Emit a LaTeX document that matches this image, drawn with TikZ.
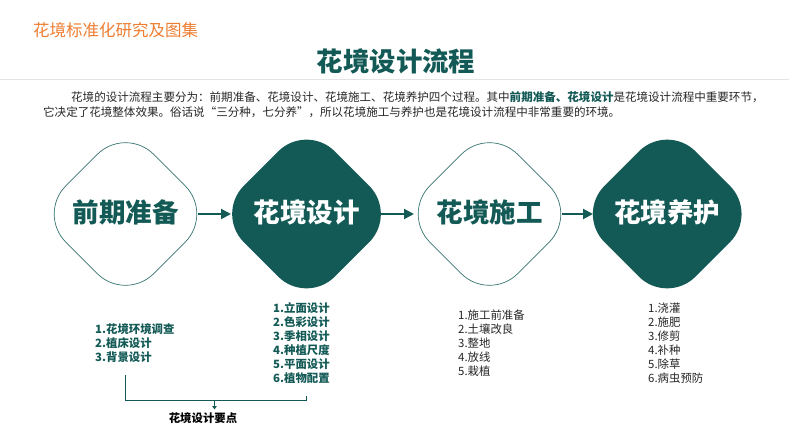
\documentclass[tikz,border=0pt]{standalone}
\usepackage{fontspec}
\setmainfont{Noto Sans CJK SC}
\usepackage{xcolor}
\usetikzlibrary{shapes.geometric, positioning, arrows.meta}
\definecolor{darkgreen}{HTML}{135A56}
\definecolor{headorange}{HTML}{ED7D31}
\definecolor{rulegray}{HTML}{E3E3E3}
\definecolor{bodygray}{HTML}{262626}
\tikzset{
    stage/.style={diamond, rounded corners=40pt, inner sep=0pt, minimum width=#1, minimum height=#1, text height=20pt, text depth=4pt, font=\bfseries\fontsize{26.5}{30}\selectfont},
    stageopen/.style={stage=176pt, draw=darkgreen!85, line width=0.7pt, text=darkgreen},
    stagefull/.style={stage=182pt, fill=darkgreen, text=white},
    flow/.style={-{Triangle[length=10pt,width=10pt]}, draw=darkgreen, line width=2pt, yshift=2pt},
    items/.style={anchor=west, align=left, inner sep=0pt, font=\fontsize{11.4}{14}\selectfont},
    itemsbold/.style={items, text=darkgreen, font=\bfseries\fontsize{11.4}{14}\selectfont},
    introline/.style={anchor=west, inner sep=0pt, text=bodygray, font=\fontsize{11.54}{14}\selectfont}
}

\begin{document}
\begin{tikzpicture}[x=1pt,y=-1pt]
    \useasboundingbox (0,0) rectangle (789,441);

    \node[anchor=west, inner sep=0pt, text=headorange, font=\fontsize{16.5}{18}\selectfont] (header) at (33,30) {花境标准化研究及图集};
    \node[inner sep=0pt, text=darkgreen, font=\bfseries\fontsize{26.4}{30}\selectfont] (title) at (396,61) {花境设计流程};
    \draw[rulegray] (0,79.5) coordinate (ruleleft) -- (789,79.5) coordinate (ruleright);

    \node[introline] (introa) at (71,97) {花境的设计流程主要分为：前期准备、花境设计、花境施工、花境养护四个过程。其中\textcolor{darkgreen}{\textbf{前期准备、花境设计}}是花境设计流程中重要环节，};
    \node[introline] (introb) at (43,112) {它决定了花境整体效果。俗话说“三分种，七分养”，所以花境施工与养护也是花境设计流程中非常重要的环境。};

    \node[stageopen] (prep) at (125.5,214) {前期准备};
    \node[stagefull] (design) at (306.5,214) {花境设计};
    \node[stageopen] (build) at (489.5,214) {花境施工};
    \node[stagefull] (care) at (667.2,214) {花境养护};

    \draw[flow, shorten <=72.5pt, shorten >=75.5pt] (prep.center) -- (design.center);
    \draw[flow, shorten <=74.5pt, shorten >=75.5pt] (design.center) -- (build.center);
    \draw[flow, shorten <=72.5pt, shorten >=74.2pt] (build.center) -- (care.center);

    \node[itemsbold] (preplist) at (95,343) {1.花境环境调查\\2.植床设计\\3.背景设计};
    \node[itemsbold] (designlist) at (273,343) {1.立面设计\\2.色彩设计\\3.季相设计\\4.种植尺度\\5.平面设计\\6.植物配置};
    \node[items, text=bodygray] (buildlist) at (458,343) {1.施工前准备\\2.土壤改良\\3.整地\\4.放线\\5.栽植};
    \node[items, text=bodygray] (carelist) at (648,343) {1.浇灌\\2.施肥\\3.修剪\\4.补种\\5.除草\\6.病虫预防};

    \node[inner sep=0pt, font=\bfseries\fontsize{11.4}{14}\selectfont] (points) at (203,418) {花境设计要点};

    \coordinate (brleft) at (125.7,375);
    \coordinate (brright) at (306.7,396);
    \coordinate (brmid) at (214.5,400.5);
    \coordinate (brtip) at (214.5,409.5);
    \draw[darkgreen, line width=0.8pt] (brleft) |- (brmid) -| (brright);
    \draw[-{Triangle[length=3.5pt,width=4.5pt]}, darkgreen, line width=0.8pt] (brmid) -- (brtip);
\end{tikzpicture}
\end{document}
